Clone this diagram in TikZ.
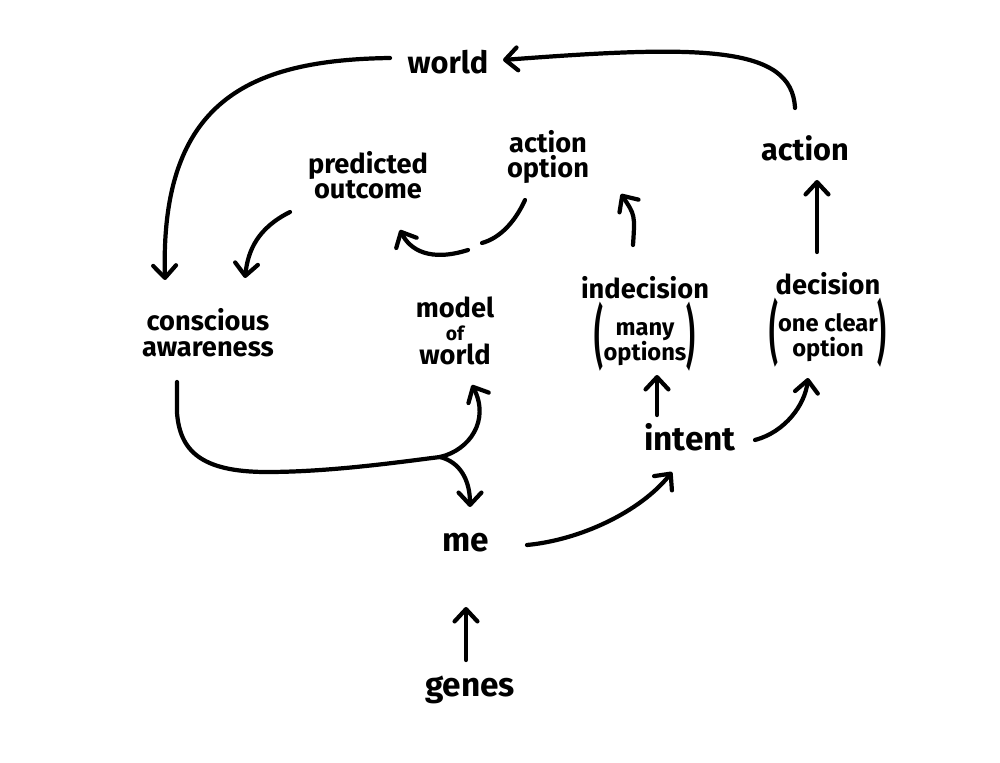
\documentclass[tikz,border=0pt]{standalone}
\usepackage{fontspec}
\setmainfont{Fira Sans}
\usetikzlibrary{arrows.meta,calc}
\newcommand{\tallparen}[1]{\raisebox{-0.42em}{\scalebox{1}[2.5]{#1}}}
\newcommand{\inner}[2]{\tallparen{(}{\fontsize{13.5}{14}\selectfont\begin{tabular}{@{}c@{}}#1\\[-1pt]#2\end{tabular}}\tallparen{)}}
\begin{document}
\begin{tikzpicture}[x=0.02cm,y=-0.02cm,
  lbl/.style={font=\bfseries\fontsize{17.5}{19}\selectfont, align=center, inner sep=2pt},
  small/.style={font=\bfseries\fontsize{15.5}{17}\selectfont, align=center, inner sep=2pt},
  big/.style={font=\bfseries\fontsize{19}{20}\selectfont, inner sep=2pt},
  arr/.style={line width=2.4pt, line cap=round, -{Straight Barb[length=7pt,width=13pt,line width=2.4pt,round]}},
  ln/.style={line width=2.4pt, line cap=round}]
\useasboundingbox (0,0) rectangle (1000,763);
\fill[white] (0,0) rectangle (1000,763);

\node[lbl] (world) at (448,62) {world};
\node[lbl] (action) at (805,148) {action};
\node[small] (pred) at (368,175) {predicted\\[-3pt]outcome};
\node[small] (aopt) at (548,157) {action\\[-3pt]option};
\node[small] (cons) at (208,333) {conscious\\[-2pt]awareness};
\node[small] (model) at (455,331) {model\\[-4pt]{\fontsize{11}{11}\selectfont of}\\[-3pt]world};
\node[small] (indec) at (645,324) {indecision\\[1pt]\inner{many}{options}};
\node[small] (dec) at (828,320) {decision\\[1pt]\inner{one clear}{option}};
\node[big] (intent) at (690,437) {intent};
\node[big] (me) at (466,543) {me};
\node[big] (genes) at (470,690) {genes};

\coordinate (split) at (440,457);
\coordinate (gapA) at (482,243);
\coordinate (gapB) at (468,250);

% action -> world
\draw[arr] ($(action)+(-10,-40)$) .. controls (792,45) and (700,45) .. ($(world)+(55,-2)$);
% world -> conscious awareness
\draw[arr] ($(world)+(-58,-4)$) .. controls (250,60) and (160,100) .. ($(cons)+(-43,-53)$);
% predicted outcome -> conscious awareness
\draw[arr] ($(pred)+(-78,37)$) .. controls (258,228) and (248,250) .. ($(cons)+(37,-55)$);
% action option -> predicted outcome (with gap)
\draw[ln] ($(aopt)+(-23,43)$) .. controls (515,222) and (500,238) .. (gapA);
\draw[arr] (gapB) .. controls (430,262) and (410,250) .. ($(pred)+(32,55)$);
% indecision -> action option
\draw[arr] ($(indec)+(-12,-79)$) .. controls (635,215) .. ($(aopt)+(73,37)$);
% decision -> action
\draw[arr] ($(dec)+(-11,-68)$) -- ($(action)+(12,32)$);
% conscious awareness -> model of world / me
\draw[ln] ($(cons)+(-31,49)$) -- (177,413) .. controls (180,450) and (200,472) .. (267,472)
   .. controls (330,472) and (400,462) .. (split);
\draw[arr] (split) .. controls (470,450) and (490,420) .. ($(model)+(17,54)$);
\draw[arr] (split) .. controls (460,462) and (470,480) .. ($(me)+(4,-36)$);
% intent -> indecision
\draw[arr] ($(intent)+(-33,-22)$) -- ($(indec)+(12,51)$);
% intent -> decision
\draw[arr] ($(intent)+(65,3)$) .. controls (785,432) and (805,405) .. ($(dec)+(-20,58)$);
% me -> intent
\draw[arr] ($(me)+(61,2)$) .. controls (580,540) and (640,512) .. ($(intent)+(-18,35)$);
% genes -> me
\draw[arr] ($(genes)+(-4,-30)$) -- ($(me)+(0,64)$);
\end{tikzpicture}
\end{document}
